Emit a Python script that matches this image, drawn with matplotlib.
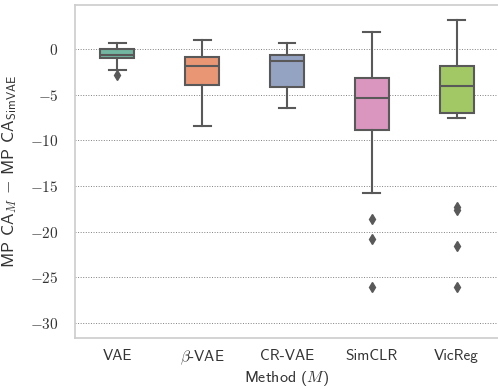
import matplotlib
matplotlib.use("Agg")
import matplotlib.pyplot as plt
import seaborn as sns
from matplotlib.ticker import FuncFormatter

# values
methods = ["VAE", r"$\beta$-VAE", "CR-VAE", "SimCLR", "VicReg"]
whis_lo = [-2.3, -8.4, -6.45, -15.8, -7.55]
q1 = [-1.0, -3.95, -4.15, -8.85, -7.05]
median = [-0.7, -1.9, -1.35, -5.35, -4.05]
q3 = [0.0, -0.9, -0.65, -3.2, -1.85]
whis_hi = [0.7, 1.0, 0.6, 1.85, 3.2]
fliers = [[-2.85], [], [], [-18.6, -20.8, -26.0], [-17.3, -17.6, -21.6, -26.0]]

plt.rcParams["font.family"] = "cmss10"
plt.rcParams["mathtext.fontset"] = "cm"
plt.rcParams["axes.unicode_minus"] = True

palette = [sns.desaturate(c, 0.75) for c in sns.color_palette("Set2", 5)]
gray = "#595959"

stats = []
for i in range(len(methods)):
    stats.append(dict(whislo=whis_lo[i], q1=q1[i], med=median[i], q3=q3[i],
                      whishi=whis_hi[i], fliers=fliers[i]))

fig = plt.figure(figsize=(4.98, 3.89), dpi=100)
ax = fig.add_axes([0.1506, 0.1319, 0.8514, 0.8551])

bp = ax.bxp(stats, positions=range(len(methods)), widths=0.4, patch_artist=True,
            boxprops=dict(edgecolor=gray, linewidth=1.5),
            whiskerprops=dict(color=gray, linewidth=1.5),
            capprops=dict(color=gray, linewidth=1.5),
            medianprops=dict(color=gray, linewidth=1.5),
            flierprops=dict(marker="d", markerfacecolor=gray, markeredgecolor=gray,
                            markersize=5),
            zorder=3)
for patch, c in zip(bp["boxes"], palette):
    patch.set_facecolor(c)

ax.set_xlim(-0.5, 4.5)
ax.set_ylim(-31.6, 4.8)
ax.set_xticks(range(len(methods)))
ax.set_xticklabels(methods)
ax.set_yticks([0, -5, -10, -15, -20, -25, -30])
ax.yaxis.set_major_formatter(FuncFormatter(lambda v, p: "$%d$" % v))
ax.yaxis.grid(True, linestyle=":", color="gray", linewidth=0.7, zorder=0)
ax.set_axisbelow(True)
ax.tick_params(axis="both", length=0, labelsize=11)
ax.tick_params(axis="y", pad=12, labelcolor="#333333")
ax.tick_params(axis="x", pad=8, labelcolor="#333333")
for s in ax.spines.values():
    s.set_color("#cccccc")
    s.set_linewidth(1.2)

ax.set_xlabel(r"Method ($M$)", fontsize=11.5, color="#333333", labelpad=1)
ax.set_ylabel(r"MP CA$_M$ $-$ MP CA$_{\mathsf{SimVAE}}$", fontsize=12.5,
              color="#333333", labelpad=8)

fig.savefig("out.png", dpi=100)
